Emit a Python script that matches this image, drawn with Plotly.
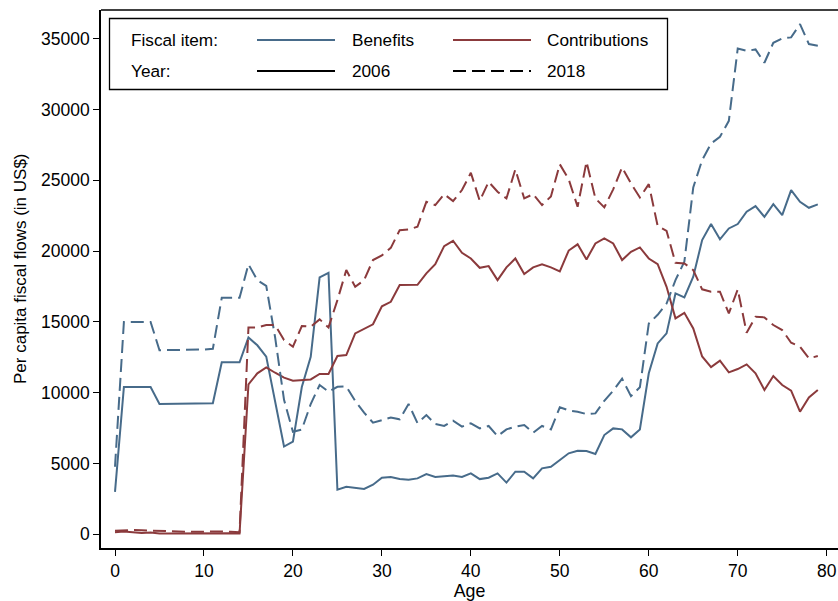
import plotly.graph_objects as go

ages = list(range(80))

benefits_2006 = [
    3000, 10400, 10400, 10400, 10400, 9200, 9200, 9200, 9200, 9200,
    9250, 9250, 12150, 12150, 12150, 13900, 13350, 12550, 9500, 6200,
    6540, 10400, 12540, 18140, 18470, 3150, 3350, 3300, 3200, 3500,
    4000, 4050, 3900, 3850, 3950, 4250, 4050, 4100, 4150, 4050,
    4300, 3900, 4000, 4300, 3650, 4420, 4420, 3950, 4660, 4770,
    5250, 5720, 5900, 5880, 5670, 7010, 7480, 7410, 6850, 7410,
    11370, 13480, 14190, 17010, 16730, 18190, 20780, 21910, 20830, 21600,
    21910, 22780, 23180, 22420, 23320, 22540, 24310, 23480, 23060, 23300,
]

benefits_2018 = [
    4770, 15000, 15000, 15000, 15000, 13000, 13000, 13000, 13000, 13000,
    13050, 13100, 16700, 16700, 16700, 19070, 17950, 17550, 13900, 9500,
    7240, 7400, 9200, 10540, 10070, 10420, 10440, 9420, 8590, 7880,
    8070, 8250, 8120, 9200, 7860, 8420, 7790, 7650, 8020, 7600,
    7840, 7480, 7650, 6940, 7410, 7600, 7720, 7170, 7650, 7410,
    8970, 8750, 8660, 8490, 8540, 9430, 10140, 10990, 9760, 10380,
    14880, 15500, 16300, 17950, 19250, 24500, 26430, 27600, 28070, 29200,
    34310, 34140, 34240, 33300, 34710, 35020, 35090, 36030, 34620, 34500,
]

contrib_2006 = [
    150, 200, 150, 100, 120, 60, 60, 70, 60, 70,
    60, 80, 90, 80, 60, 10590, 11370, 11790, 11410, 11060,
    10850, 10890, 10940, 11320, 11320, 12590, 12660, 14190, 14540, 14830,
    16100, 16420, 17600, 17600, 17620, 18430, 19080, 20350, 20730, 19880,
    19480, 18820, 18940, 17950, 18850, 19480, 18380, 18850, 19060, 18850,
    18570, 20040, 20480, 19410, 20540, 20890, 20540, 19370, 19950, 20260,
    19480, 19080, 17480, 15250, 15640, 14540, 12560, 11810, 12260, 11440,
    11670, 12000, 11370, 10190, 11180, 10540, 10140, 8660, 9670, 10190,
]

contrib_2018 = [
    250, 300, 300, 280, 260, 200, 200, 180, 180, 180,
    200, 200, 200, 180, 150, 14600, 14600, 14780, 14780, 13720,
    13250, 14710, 14660, 15180, 14610, 16540, 18660, 17480, 17950, 19370,
    19700, 20230, 21480, 21530, 21720, 23480, 23250, 24020, 23530, 24310,
    25530, 23550, 24890, 24190, 23720, 25770, 23720, 24020, 23250, 23860,
    26130, 25070, 23130, 26310, 23720, 23090, 24360, 25910, 24780, 23790,
    24730, 21770, 21430, 19170, 19130, 18660, 17300, 17130, 17130, 15600,
    17300, 14230, 15360, 15320, 14780, 14420, 13530, 13250, 12430, 12590,
]

x_ticks = [0, 10, 20, 30, 40, 50, 60, 70, 80]
y_ticks = [0, 5000, 10000, 15000, 20000, 25000, 30000, 35000]

BLUE = "#476b8a"
RED = "#8b3a3c"
DASH = "13px,6px"
FONT = "Liberation Sans, Arial, Helvetica, sans-serif"

fig = go.Figure()
series = [
    (benefits_2006, BLUE, "solid", "Benefits 2006"),
    (contrib_2006, RED, "solid", "Contributions 2006"),
    (benefits_2018, BLUE, DASH, "Benefits 2018"),
    (contrib_2018, RED, DASH, "Contributions 2018"),
]
for vals, col, dash, name in series:
    fig.add_trace(go.Scatter(
        x=ages, y=vals, mode="lines", name=name,
        line=dict(color=col, width=2, dash=dash),
        showlegend=False, hoverinfo="x+y+name",
    ))

# plot area in pixels: left 101, right 838, top 10, bottom 548
L, R, T, B = 101, 838, 10, 548
W, H = R - L, B - T

def px(xp):
    return (xp - L) / W

def py(yp):
    return (B - yp) / H

shapes = [
    dict(type="line", xref="paper", yref="paper", x0=0, x1=1, y0=1, y1=1,
         line=dict(color="black", width=1.5)),
    dict(type="rect", xref="paper", yref="paper",
         x0=px(109.5), x1=px(667.5), y0=py(89.5), y1=py(18.5),
         line=dict(color="black", width=1.3), fillcolor="white"),
    dict(type="line", xref="paper", yref="paper", x0=px(257), x1=px(335),
         y0=py(40), y1=py(40), line=dict(color=BLUE, width=2)),
    dict(type="line", xref="paper", yref="paper", x0=px(453), x1=px(531),
         y0=py(40), y1=py(40), line=dict(color=RED, width=2)),
    dict(type="line", xref="paper", yref="paper", x0=px(257), x1=px(335),
         y0=py(71), y1=py(71), line=dict(color="black", width=2)),
    dict(type="line", xref="paper", yref="paper", x0=px(453), x1=px(531),
         y0=py(71), y1=py(71), line=dict(color="black", width=2, dash=DASH)),
]

legend_texts = [
    ("Fiscal item:", 132, 40), ("Benefits", 353, 40), ("Contributions", 548, 40),
    ("Year:", 132, 71), ("2006", 353, 71), ("2018", 548, 71),
]
annotations = [
    dict(text=t, xref="paper", yref="paper", x=px(xp - 3), y=py(yp),
         xanchor="left", yanchor="middle", showarrow=False,
         font=dict(family=FONT, size=17.2, color="black"))
    for t, xp, yp in legend_texts
]
annotations.append(dict(
    text="Per capita fiscal flows (in US$)", xref="paper", yref="paper",
    x=px(20), y=py(269), xanchor="center", yanchor="middle",
    textangle=-90, showarrow=False,
    font=dict(family=FONT, size=17, color="black"),
))

fig.update_layout(
    width=838, height=601,
    margin=dict(l=L, r=838 - R, t=T, b=601 - B),
    paper_bgcolor="white", plot_bgcolor="white",
    font=dict(family=FONT, size=17, color="black"),
    shapes=shapes, annotations=annotations,
    xaxis=dict(
        range=[-1.574, 81.27], tickmode="array", tickvals=x_ticks,
        ticktext=[str(v) for v in x_ticks],
        showgrid=False, zeroline=False, showline=True, linecolor="black",
        linewidth=1.5, ticks="outside", ticklen=6, tickwidth=1.3,
        tickcolor="black", title=dict(text="Age", standoff=3, font=dict(size=17.8)),
        tickfont=dict(size=17.5),
    ),
    yaxis=dict(
        range=[-967, 37027], tickmode="array", tickvals=y_ticks,
        ticktext=[str(v) for v in y_ticks],
        showgrid=False, zeroline=False, showline=True, linecolor="black",
        linewidth=1.5, ticks="outside", ticklen=6, tickwidth=1.3,
        tickcolor="black",
        tickfont=dict(size=17.5),
    ),
)

fig.write_html("out.html")
